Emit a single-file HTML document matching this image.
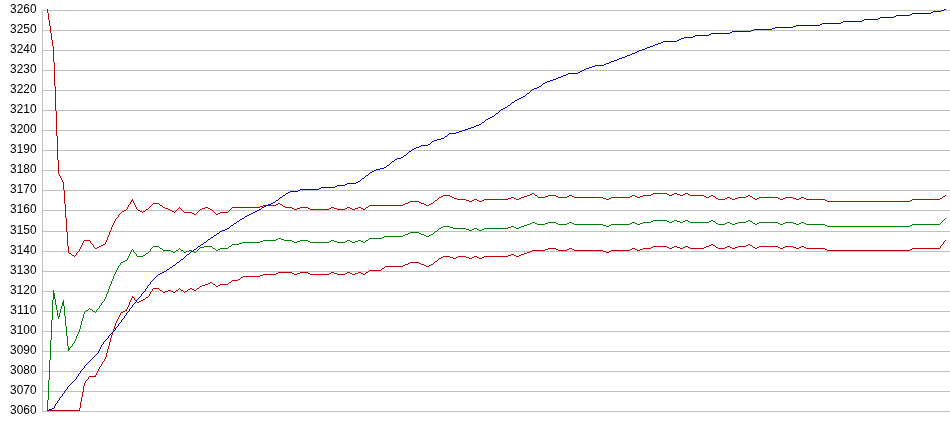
<!DOCTYPE html>
<html><head><meta charset="utf-8"><title>chart</title>
<style>
html,body{margin:0;padding:0;background:#fff;overflow:hidden}
svg{display:block}
text{font-family:"Liberation Sans",sans-serif;font-size:12.3px;fill:#000;text-anchor:end}
path{shape-rendering:crispEdges;stroke:none}
</style></head><body>
<svg width="950" height="435" viewBox="0 0 950 435">
<rect width="950" height="435" fill="#fff"/>
<path fill="#c0c0c0" d="M42 10h908v1h-908zM42 30h908v1h-908zM42 50h908v1h-908zM42 70h908v1h-908zM42 90h908v1h-908zM42 110h908v1h-908zM42 130h908v1h-908zM42 150h908v1h-908zM42 170h908v1h-908zM42 190h908v1h-908zM42 210h908v1h-908zM42 231h908v1h-908zM42 251h908v1h-908zM42 271h908v1h-908zM42 291h908v1h-908zM42 311h908v1h-908zM42 331h908v1h-908zM42 351h908v1h-908zM42 371h908v1h-908zM42 391h908v1h-908zM42 411h908v1h-908zM42 10h1v402h-1z"/>
<g><text x="36.5" y="13.2" textLength="26.4" lengthAdjust="spacingAndGlyphs">3260</text><text x="36.5" y="33.2" textLength="26.4" lengthAdjust="spacingAndGlyphs">3250</text><text x="36.5" y="53.2" textLength="26.4" lengthAdjust="spacingAndGlyphs">3240</text><text x="36.5" y="73.2" textLength="26.4" lengthAdjust="spacingAndGlyphs">3230</text><text x="36.5" y="93.2" textLength="26.4" lengthAdjust="spacingAndGlyphs">3220</text><text x="36.5" y="113.2" textLength="26.4" lengthAdjust="spacingAndGlyphs">3210</text><text x="36.5" y="133.2" textLength="26.4" lengthAdjust="spacingAndGlyphs">3200</text><text x="36.5" y="153.2" textLength="26.4" lengthAdjust="spacingAndGlyphs">3190</text><text x="36.5" y="173.2" textLength="26.4" lengthAdjust="spacingAndGlyphs">3180</text><text x="36.5" y="193.2" textLength="26.4" lengthAdjust="spacingAndGlyphs">3170</text><text x="36.5" y="213.2" textLength="26.4" lengthAdjust="spacingAndGlyphs">3160</text><text x="36.5" y="234.2" textLength="26.4" lengthAdjust="spacingAndGlyphs">3150</text><text x="36.5" y="254.2" textLength="26.4" lengthAdjust="spacingAndGlyphs">3140</text><text x="36.5" y="274.2" textLength="26.4" lengthAdjust="spacingAndGlyphs">3130</text><text x="36.5" y="294.2" textLength="26.4" lengthAdjust="spacingAndGlyphs">3120</text><text x="36.5" y="314.2" textLength="26.4" lengthAdjust="spacingAndGlyphs">3110</text><text x="36.5" y="334.2" textLength="26.4" lengthAdjust="spacingAndGlyphs">3100</text><text x="36.5" y="354.2" textLength="26.4" lengthAdjust="spacingAndGlyphs">3090</text><text x="36.5" y="374.2" textLength="26.4" lengthAdjust="spacingAndGlyphs">3080</text><text x="36.5" y="394.2" textLength="26.4" lengthAdjust="spacingAndGlyphs">3070</text><text x="36.5" y="414.2" textLength="26.4" lengthAdjust="spacingAndGlyphs">3060</text></g>
<path fill="#c00000" d="M69 253h2v1h-2zM72 255h2v1h-2zM84 240h6v1h-6zM95 248h2v1h-2zM97 247h2v1h-2zM99 246h2v1h-2zM101 245h2v1h-2zM103 244h2v1h-2zM122 211h2v1h-2zM124 210h2v1h-2zM131 200h2v1h-2zM138 210h2v1h-2zM140 211h2v1h-2zM143 211h2v1h-2zM146 209h2v1h-2zM153 203h6v1h-6zM160 205h2v1h-2zM163 207h2v1h-2zM165 208h3v1h-3zM168 209h2v1h-2zM170 210h2v1h-2zM172 211h2v1h-2zM184 212h8v1h-8zM192 213h2v1h-2zM194 214h2v1h-2zM200 209h2v1h-2zM202 208h3v1h-3zM205 207h3v1h-3zM208 208h2v1h-2zM210 209h2v1h-2zM216 214h2v1h-2zM218 213h2v1h-2zM220 212h8v1h-8zM232 207h28v1h-28zM260 206h3v1h-3zM263 205h13v1h-13zM276 204h2v1h-2zM278 203h2v1h-2zM280 204h2v1h-2zM283 206h2v1h-2zM285 207h7v1h-7zM292 208h2v1h-2zM294 209h3v1h-3zM297 208h3v1h-3zM300 207h8v1h-8zM308 208h2v1h-2zM310 209h19v1h-19zM329 208h2v1h-2zM331 207h3v1h-3zM334 208h3v1h-3zM337 209h8v1h-8zM345 208h2v1h-2zM347 207h3v1h-3zM350 208h2v1h-2zM352 209h3v1h-3zM355 208h3v1h-3zM358 207h3v1h-3zM361 208h2v1h-2zM363 209h2v1h-2zM366 207h2v1h-2zM369 205h34v1h-34zM403 204h2v1h-2zM405 203h3v1h-3zM408 202h2v1h-2zM410 201h9v1h-9zM419 202h2v1h-2zM421 203h3v1h-3zM424 204h2v1h-2zM426 205h3v1h-3zM429 204h2v1h-2zM431 203h2v1h-2zM435 200h2v1h-2zM439 197h2v1h-2zM441 196h2v1h-2zM443 195h7v1h-7zM450 196h2v1h-2zM452 197h2v1h-2zM454 198h3v1h-3zM457 199h9v1h-9zM466 200h3v1h-3zM469 201h3v1h-3zM472 200h2v1h-2zM474 199h3v1h-3zM477 200h2v1h-2zM479 201h3v1h-3zM482 200h2v1h-2zM484 199h24v1h-24zM508 198h3v1h-3zM511 197h3v1h-3zM514 198h2v1h-2zM516 199h3v1h-3zM519 198h2v1h-2zM521 197h3v1h-3zM524 196h3v1h-3zM527 195h3v1h-3zM530 194h2v1h-2zM532 193h2v1h-2zM535 195h2v1h-2zM538 197h7v1h-7zM545 196h3v1h-3zM548 195h8v1h-8zM556 196h2v1h-2zM558 197h9v1h-9zM567 196h2v1h-2zM569 195h3v1h-3zM572 196h2v1h-2zM574 197h29v1h-29zM603 198h3v1h-3zM606 199h3v1h-3zM609 198h2v1h-2zM611 197h19v1h-19zM630 196h2v1h-2zM632 195h3v1h-3zM635 196h2v1h-2zM637 197h3v1h-3zM640 196h3v1h-3zM643 195h8v1h-8zM651 194h2v1h-2zM653 193h14v1h-14zM667 194h2v1h-2zM669 195h3v1h-3zM672 194h2v1h-2zM674 193h3v1h-3zM677 194h3v1h-3zM680 195h3v1h-3zM683 194h2v1h-2zM685 193h3v1h-3zM688 194h2v1h-2zM690 195h14v1h-14zM704 196h2v1h-2zM706 197h3v1h-3zM709 196h2v1h-2zM711 195h2v1h-2zM713 196h2v1h-2zM716 198h2v1h-2zM718 199h7v1h-7zM725 198h2v1h-2zM727 197h3v1h-3zM730 198h2v1h-2zM732 199h3v1h-3zM735 198h3v1h-3zM738 197h8v1h-8zM746 196h2v1h-2zM748 195h2v1h-2zM750 196h2v1h-2zM753 198h2v1h-2zM755 199h2v1h-2zM757 198h2v1h-2zM759 197h19v1h-19zM778 198h2v1h-2zM780 199h3v1h-3zM783 198h2v1h-2zM785 197h8v1h-8zM793 198h3v1h-3zM796 199h3v1h-3zM799 198h2v1h-2zM801 197h3v1h-3zM804 198h2v1h-2zM806 199h19v1h-19zM825 200h2v1h-2zM827 201h83v1h-83zM910 200h2v1h-2zM912 199h28v1h-28zM940 198h2v1h-2zM943 196h2v1h-2zM47 9v4h1v-4zM48 13v7h1v-7zM49 20v6h1v-6zM50 26v7h1v-7zM51 33v7h1v-7zM52 40v6h1v-6zM53 46v16h1v-16zM54 62v24h1v-24zM55 86v25h1v-25zM56 111v25h1v-25zM57 136v24h1v-24zM58 160v14h1v-14zM59 174v2h1v-2zM60 176v2h1v-2zM61 178v2h1v-2zM62 180v2h1v-2zM63 182v8h1v-8zM64 190v14h1v-14zM65 204v14h1v-14zM66 218v14h1v-14zM67 232v14h1v-14zM68 246v7h1v-7zM71 254v1h1v-1zM74 256v1h1v-1zM75 255v1h1v-1zM76 253v2h1v-2zM77 252v1h1v-1zM78 251v1h1v-1zM79 249v2h1v-2zM80 247v2h1v-2zM81 245v2h1v-2zM82 243v2h1v-2zM83 241v2h1v-2zM90 241v2h1v-2zM91 243v1h1v-1zM92 244v1h1v-1zM93 245v2h1v-2zM94 247v1h1v-1zM105 242v2h1v-2zM106 240v2h1v-2zM107 237v3h1v-3zM108 235v2h1v-2zM109 232v3h1v-3zM110 230v2h1v-2zM111 227v3h1v-3zM112 225v2h1v-2zM113 223v2h1v-2zM114 221v2h1v-2zM115 219v2h1v-2zM116 218v1h1v-1zM117 217v1h1v-1zM118 215v2h1v-2zM119 214v1h1v-1zM120 213v1h1v-1zM121 212v1h1v-1zM126 209v1h1v-1zM127 207v2h1v-2zM128 205v2h1v-2zM129 204v1h1v-1zM130 202v2h1v-2zM131 201v1h1v-1zM132 199v1h1v-1zM133 201v2h1v-2zM134 203v2h1v-2zM135 205v2h1v-2zM136 207v2h1v-2zM137 209v1h1v-1zM142 212v1h1v-1zM145 210v1h1v-1zM148 208v1h1v-1zM149 207v1h1v-1zM150 206v1h1v-1zM151 205v1h1v-1zM152 204v1h1v-1zM159 204v1h1v-1zM162 206v1h1v-1zM174 212v1h1v-1zM175 211v1h1v-1zM176 210v1h1v-1zM177 209v1h1v-1zM178 208v1h1v-1zM179 207v1h1v-1zM180 208v1h1v-1zM181 209v1h1v-1zM182 210v1h1v-1zM183 211v1h1v-1zM196 213v1h1v-1zM197 212v1h1v-1zM198 211v1h1v-1zM199 210v1h1v-1zM212 210v1h1v-1zM213 211v1h1v-1zM214 212v1h1v-1zM215 213v1h1v-1zM228 211v1h1v-1zM229 210v1h1v-1zM230 209v1h1v-1zM231 208v1h1v-1zM282 205v1h1v-1zM365 208v1h1v-1zM368 206v1h1v-1zM433 202v1h1v-1zM434 201v1h1v-1zM437 199v1h1v-1zM438 198v1h1v-1zM534 194v1h1v-1zM537 196v1h1v-1zM715 197v1h1v-1zM752 197v1h1v-1zM942 197v1h1v-1zM945 195v1h1v-1z"/>
<path fill="#c00000" d="M47 410h33v1h-33zM89 376h7v1h-7zM121 312h2v1h-2zM123 311h2v1h-2zM125 310h2v1h-2zM132 297h2v1h-2zM137 302h2v1h-2zM139 301h2v1h-2zM141 300h2v1h-2zM143 299h2v1h-2zM146 297h2v1h-2zM153 288h6v1h-6zM160 290h2v1h-2zM163 292h2v1h-2zM165 291h3v1h-3zM168 290h3v1h-3zM171 291h2v1h-2zM173 292h2v1h-2zM176 290h2v1h-2zM181 290h2v1h-2zM185 291h2v1h-2zM188 289h2v1h-2zM190 288h2v1h-2zM192 289h2v1h-2zM194 290h2v1h-2zM197 288h2v1h-2zM200 286h2v1h-2zM202 285h3v1h-3zM205 284h3v1h-3zM208 283h2v1h-2zM210 282h2v1h-2zM213 284h2v1h-2zM216 286h2v1h-2zM218 285h2v1h-2zM220 284h8v1h-8zM229 282h2v1h-2zM232 280h6v1h-6zM238 279h2v1h-2zM241 277h2v1h-2zM243 276h17v1h-17zM260 275h3v1h-3zM263 274h13v1h-13zM276 273h2v1h-2zM278 272h14v1h-14zM292 273h2v1h-2zM294 274h3v1h-3zM297 273h3v1h-3zM300 272h8v1h-8zM308 273h2v1h-2zM310 274h19v1h-19zM329 273h2v1h-2zM331 272h3v1h-3zM334 273h3v1h-3zM337 274h8v1h-8zM345 273h2v1h-2zM347 272h3v1h-3zM350 273h2v1h-2zM352 274h3v1h-3zM355 273h3v1h-3zM358 272h3v1h-3zM361 273h2v1h-2zM363 274h2v1h-2zM366 272h2v1h-2zM369 270h12v1h-12zM382 268h2v1h-2zM385 266h18v1h-18zM403 265h2v1h-2zM405 264h3v1h-3zM408 263h2v1h-2zM410 262h9v1h-9zM419 263h2v1h-2zM421 264h3v1h-3zM424 265h2v1h-2zM426 266h3v1h-3zM429 265h2v1h-2zM431 264h2v1h-2zM435 261h2v1h-2zM439 258h2v1h-2zM441 257h2v1h-2zM443 256h7v1h-7zM450 257h3v1h-3zM453 258h3v1h-3zM456 257h2v1h-2zM458 256h8v1h-8zM466 257h3v1h-3zM469 258h3v1h-3zM472 257h2v1h-2zM474 256h3v1h-3zM477 257h2v1h-2zM479 258h3v1h-3zM482 257h2v1h-2zM484 256h24v1h-24zM508 255h3v1h-3zM511 254h3v1h-3zM514 255h2v1h-2zM516 256h3v1h-3zM519 255h2v1h-2zM521 254h3v1h-3zM524 253h3v1h-3zM527 252h3v1h-3zM530 251h2v1h-2zM532 250h13v1h-13zM545 249h3v1h-3zM548 248h8v1h-8zM556 249h2v1h-2zM558 250h9v1h-9zM567 249h2v1h-2zM569 248h3v1h-3zM572 249h2v1h-2zM574 250h29v1h-29zM603 251h3v1h-3zM606 252h3v1h-3zM609 251h2v1h-2zM611 250h19v1h-19zM630 249h2v1h-2zM632 248h3v1h-3zM635 249h2v1h-2zM637 250h3v1h-3zM640 249h3v1h-3zM643 248h8v1h-8zM651 247h2v1h-2zM653 246h14v1h-14zM667 247h2v1h-2zM669 248h3v1h-3zM672 247h2v1h-2zM674 246h3v1h-3zM677 247h3v1h-3zM680 248h3v1h-3zM683 247h2v1h-2zM685 246h3v1h-3zM688 247h2v1h-2zM690 248h14v1h-14zM704 247h2v1h-2zM706 246h3v1h-3zM709 245h2v1h-2zM711 244h2v1h-2zM713 245h2v1h-2zM716 247h2v1h-2zM718 248h7v1h-7zM725 247h2v1h-2zM727 246h3v1h-3zM730 247h2v1h-2zM732 248h3v1h-3zM735 247h3v1h-3zM738 246h8v1h-8zM746 245h2v1h-2zM748 244h2v1h-2zM750 245h2v1h-2zM753 247h2v1h-2zM755 248h2v1h-2zM757 247h2v1h-2zM759 246h19v1h-19zM778 247h2v1h-2zM780 248h3v1h-3zM783 247h2v1h-2zM785 246h8v1h-8zM793 247h3v1h-3zM796 248h3v1h-3zM799 247h2v1h-2zM801 246h3v1h-3zM804 247h2v1h-2zM806 248h19v1h-19zM825 249h2v1h-2zM827 250h83v1h-83zM910 249h2v1h-2zM912 248h28v1h-28zM79 408v2h1v-2zM80 402v6h1v-6zM81 397v5h1v-5zM82 392v5h1v-5zM83 386v6h1v-6zM84 383v3h1v-3zM85 381v2h1v-2zM86 380v1h1v-1zM87 379v1h1v-1zM88 377v2h1v-2zM95 375v1h1v-1zM96 373v2h1v-2zM97 371v2h1v-2zM98 369v2h1v-2zM99 367v2h1v-2zM100 366v1h1v-1zM101 364v2h1v-2zM102 362v2h1v-2zM103 361v1h1v-1zM104 359v2h1v-2zM105 357v2h1v-2zM106 353v4h1v-4zM107 349v4h1v-4zM108 346v3h1v-3zM109 342v4h1v-4zM110 338v4h1v-4zM111 335v3h1v-3zM112 332v3h1v-3zM113 329v3h1v-3zM114 326v3h1v-3zM115 323v3h1v-3zM116 321v2h1v-2zM117 319v2h1v-2zM118 317v2h1v-2zM119 315v2h1v-2zM120 313v2h1v-2zM126 309v1h1v-1zM127 307v2h1v-2zM128 305v2h1v-2zM129 302v3h1v-3zM130 300v2h1v-2zM131 298v2h1v-2zM132 296v1h1v-1zM134 298v2h1v-2zM135 300v1h1v-1zM136 301v1h1v-1zM145 298v1h1v-1zM148 296v1h1v-1zM149 294v2h1v-2zM150 292v2h1v-2zM151 291v1h1v-1zM152 289v2h1v-2zM159 289v1h1v-1zM162 291v1h1v-1zM175 291v1h1v-1zM178 289v1h1v-1zM179 288v1h1v-1zM180 289v1h1v-1zM183 291v1h1v-1zM184 292v1h1v-1zM187 290v1h1v-1zM196 289v1h1v-1zM199 287v1h1v-1zM212 283v1h1v-1zM215 285v1h1v-1zM228 283v1h1v-1zM231 281v1h1v-1zM240 278v1h1v-1zM365 273v1h1v-1zM368 271v1h1v-1zM381 269v1h1v-1zM384 267v1h1v-1zM433 263v1h1v-1zM434 262v1h1v-1zM437 260v1h1v-1zM438 259v1h1v-1zM715 246v1h1v-1zM752 246v1h1v-1zM940 246v2h1v-2zM941 245v1h1v-1zM942 244v1h1v-1zM943 242v2h1v-2zM944 241v1h1v-1zM945 240v1h1v-1z"/>
<path fill="#008000" d="M53 293h2v1h-2zM53 294h2v1h-2zM53 295h2v1h-2zM53 296h2v1h-2zM53 297h2v1h-2zM53 298h2v1h-2zM58 316h2v1h-2zM62 302h2v1h-2zM62 303h2v1h-2zM62 304h2v1h-2zM62 305h2v1h-2zM68 348h2v1h-2zM68 349h2v1h-2zM86 310h2v1h-2zM90 309h2v1h-2zM93 311h2v1h-2zM121 262h2v1h-2zM123 261h2v1h-2zM125 260h2v1h-2zM137 256h6v1h-6zM143 255h2v1h-2zM146 253h2v1h-2zM153 246h6v1h-6zM160 248h2v1h-2zM163 250h8v1h-8zM171 251h2v1h-2zM173 252h2v1h-2zM176 250h2v1h-2zM181 250h2v1h-2zM184 252h2v1h-2zM186 251h3v1h-3zM189 250h3v1h-3zM192 251h2v1h-2zM194 252h2v1h-2zM200 247h4v1h-4zM204 246h8v1h-8zM213 248h2v1h-2zM216 250h2v1h-2zM218 249h2v1h-2zM220 248h8v1h-8zM229 246h2v1h-2zM232 244h7v1h-7zM239 243h3v1h-3zM242 242h18v1h-18zM260 241h3v1h-3zM263 240h13v1h-13zM276 239h2v1h-2zM278 238h3v1h-3zM281 239h3v1h-3zM284 240h8v1h-8zM292 241h2v1h-2zM294 242h3v1h-3zM297 241h3v1h-3zM300 240h8v1h-8zM308 241h2v1h-2zM310 242h19v1h-19zM329 241h2v1h-2zM331 240h3v1h-3zM334 241h3v1h-3zM337 242h8v1h-8zM345 241h2v1h-2zM347 240h3v1h-3zM350 241h2v1h-2zM352 242h3v1h-3zM355 241h3v1h-3zM358 240h3v1h-3zM361 241h2v1h-2zM363 242h2v1h-2zM366 240h2v1h-2zM369 238h13v1h-13zM382 237h2v1h-2zM384 236h19v1h-19zM403 235h2v1h-2zM405 234h3v1h-3zM408 233h2v1h-2zM410 232h9v1h-9zM419 233h2v1h-2zM421 234h3v1h-3zM424 235h2v1h-2zM426 236h3v1h-3zM429 235h2v1h-2zM431 234h2v1h-2zM435 231h2v1h-2zM439 228h2v1h-2zM441 227h2v1h-2zM443 226h7v1h-7zM450 227h3v1h-3zM453 228h13v1h-13zM466 229h3v1h-3zM469 230h3v1h-3zM472 229h2v1h-2zM474 228h3v1h-3zM477 229h2v1h-2zM479 230h3v1h-3zM482 229h2v1h-2zM484 228h24v1h-24zM508 227h3v1h-3zM511 226h3v1h-3zM514 227h2v1h-2zM516 228h3v1h-3zM519 227h2v1h-2zM521 226h3v1h-3zM524 225h3v1h-3zM527 224h3v1h-3zM530 223h2v1h-2zM532 222h3v1h-3zM535 223h2v1h-2zM537 224h8v1h-8zM545 223h3v1h-3zM548 222h8v1h-8zM556 223h2v1h-2zM558 224h9v1h-9zM567 223h2v1h-2zM569 222h3v1h-3zM572 223h2v1h-2zM574 224h29v1h-29zM603 225h3v1h-3zM606 226h3v1h-3zM609 225h2v1h-2zM611 224h19v1h-19zM630 223h2v1h-2zM632 222h3v1h-3zM635 223h2v1h-2zM637 224h3v1h-3zM640 223h3v1h-3zM643 222h8v1h-8zM651 221h2v1h-2zM653 220h14v1h-14zM667 221h2v1h-2zM669 222h3v1h-3zM672 221h2v1h-2zM674 220h3v1h-3zM677 221h3v1h-3zM680 222h3v1h-3zM683 221h2v1h-2zM685 220h3v1h-3zM688 221h2v1h-2zM690 222h19v1h-19zM709 221h2v1h-2zM711 220h2v1h-2zM713 221h2v1h-2zM716 223h2v1h-2zM718 224h7v1h-7zM725 223h2v1h-2zM727 222h3v1h-3zM730 223h2v1h-2zM732 224h3v1h-3zM735 223h3v1h-3zM738 222h8v1h-8zM746 221h2v1h-2zM748 220h2v1h-2zM750 221h2v1h-2zM753 223h2v1h-2zM755 224h2v1h-2zM757 223h2v1h-2zM759 222h19v1h-19zM778 223h2v1h-2zM780 224h3v1h-3zM783 223h2v1h-2zM785 222h8v1h-8zM793 223h3v1h-3zM796 224h3v1h-3zM799 223h2v1h-2zM801 222h3v1h-3zM804 223h2v1h-2zM806 224h19v1h-19zM825 225h2v1h-2zM827 226h83v1h-83zM910 225h2v1h-2zM912 224h28v1h-28zM47 400v11h1v-11zM48 380v20h1v-20zM49 360v20h1v-20zM50 340v20h1v-20zM51 320v20h1v-20zM52 300v20h1v-20zM53 290v3h1v-3zM53 299v1h1v-1zM55 299v6h1v-6zM56 305v5h1v-5zM57 310v6h1v-6zM58 317v2h1v-2zM59 313v3h1v-3zM60 309v4h1v-4zM61 306v3h1v-3zM63 300v2h1v-2zM64 306v10h1v-10zM65 316v10h1v-10zM66 326v10h1v-10zM67 336v10h1v-10zM68 346v2h1v-2zM68 350v1h1v-1zM70 347v1h1v-1zM71 346v1h1v-1zM72 344v2h1v-2zM73 343v1h1v-1zM74 341v2h1v-2zM75 339v2h1v-2zM76 336v3h1v-3zM77 334v2h1v-2zM78 332v2h1v-2zM79 329v3h1v-3zM80 325v4h1v-4zM81 321v4h1v-4zM82 318v3h1v-3zM83 314v4h1v-4zM84 312v2h1v-2zM85 311v1h1v-1zM88 309v1h1v-1zM89 308v1h1v-1zM92 310v1h1v-1zM95 312v1h1v-1zM96 310v2h1v-2zM97 309v1h1v-1zM98 308v1h1v-1zM99 306v2h1v-2zM100 305v1h1v-1zM101 303v2h1v-2zM102 302v1h1v-1zM103 301v1h1v-1zM104 299v2h1v-2zM105 297v2h1v-2zM106 294v3h1v-3zM107 292v2h1v-2zM108 289v3h1v-3zM109 286v3h1v-3zM110 284v2h1v-2zM111 281v3h1v-3zM112 279v2h1v-2zM113 276v3h1v-3zM114 274v2h1v-2zM115 272v2h1v-2zM116 270v2h1v-2zM117 268v2h1v-2zM118 266v2h1v-2zM119 265v1h1v-1zM120 263v2h1v-2zM127 258v2h1v-2zM128 256v2h1v-2zM129 254v2h1v-2zM130 252v2h1v-2zM131 250v2h1v-2zM132 249v1h1v-1zM133 250v2h1v-2zM134 252v1h1v-1zM135 253v1h1v-1zM136 254v2h1v-2zM145 254v1h1v-1zM148 252v1h1v-1zM149 251v1h1v-1zM150 249v2h1v-2zM151 248v1h1v-1zM152 247v1h1v-1zM159 247v1h1v-1zM162 249v1h1v-1zM175 251v1h1v-1zM178 249v1h1v-1zM179 248v1h1v-1zM180 249v1h1v-1zM183 251v1h1v-1zM196 251v1h1v-1zM197 250v1h1v-1zM198 249v1h1v-1zM199 248v1h1v-1zM212 247v1h1v-1zM215 249v1h1v-1zM228 247v1h1v-1zM231 245v1h1v-1zM365 241v1h1v-1zM368 239v1h1v-1zM433 233v1h1v-1zM434 232v1h1v-1zM437 230v1h1v-1zM438 229v1h1v-1zM715 222v1h1v-1zM752 222v1h1v-1zM940 223v1h1v-1zM941 222v1h1v-1zM942 221v1h1v-1zM943 220v1h1v-1zM944 219v1h1v-1zM945 218v1h1v-1z"/>
<path fill="#0000c0" d="M47 410h2v1h-2zM49 409h3v1h-3zM52 408h2v1h-2zM158 274h2v1h-2zM160 273h2v1h-2zM162 272h2v1h-2zM164 271h2v1h-2zM167 269h2v1h-2zM170 267h2v1h-2zM173 265h2v1h-2zM177 262h2v1h-2zM181 259h2v1h-2zM187 254h2v1h-2zM191 251h2v1h-2zM194 249h2v1h-2zM198 246h2v1h-2zM201 244h2v1h-2zM204 242h2v1h-2zM208 239h2v1h-2zM211 237h2v1h-2zM214 235h2v1h-2zM217 233h2v1h-2zM220 231h2v1h-2zM222 230h3v1h-3zM225 229h2v1h-2zM227 228h2v1h-2zM231 225h2v1h-2zM234 223h2v1h-2zM237 221h2v1h-2zM240 219h2v1h-2zM242 218h2v1h-2zM245 216h2v1h-2zM247 215h2v1h-2zM249 214h2v1h-2zM251 213h2v1h-2zM253 212h2v1h-2zM255 211h2v1h-2zM257 210h2v1h-2zM259 209h2v1h-2zM262 207h2v1h-2zM264 206h2v1h-2zM266 205h2v1h-2zM268 204h3v1h-3zM271 203h2v1h-2zM273 202h2v1h-2zM276 200h2v1h-2zM280 197h2v1h-2zM283 195h2v1h-2zM286 193h2v1h-2zM288 192h2v1h-2zM290 191h8v1h-8zM298 190h2v1h-2zM300 189h19v1h-19zM319 188h2v1h-2zM321 187h14v1h-14zM335 186h2v1h-2zM337 185h8v1h-8zM345 184h2v1h-2zM347 183h9v1h-9zM356 182h2v1h-2zM358 181h2v1h-2zM362 178h2v1h-2zM366 175h2v1h-2zM370 172h2v1h-2zM372 171h2v1h-2zM374 170h2v1h-2zM376 169h4v1h-4zM380 168h4v1h-4zM384 167h2v1h-2zM387 165h2v1h-2zM392 161h2v1h-2zM395 159h2v1h-2zM397 158h4v1h-4zM401 157h2v1h-2zM404 155h2v1h-2zM409 151h2v1h-2zM412 149h2v1h-2zM414 148h2v1h-2zM416 147h3v1h-3zM419 146h2v1h-2zM421 145h7v1h-7zM428 144h2v1h-2zM432 141h2v1h-2zM434 140h3v1h-3zM437 139h4v1h-4zM441 138h3v1h-3zM445 136h2v1h-2zM449 133h7v1h-7zM456 132h3v1h-3zM459 131h3v1h-3zM462 130h3v1h-3zM465 129h3v1h-3zM468 128h3v1h-3zM471 127h3v1h-3zM474 126h2v1h-2zM476 125h3v1h-3zM479 124h2v1h-2zM482 122h2v1h-2zM486 119h2v1h-2zM488 118h2v1h-2zM490 117h2v1h-2zM492 116h2v1h-2zM496 113h2v1h-2zM501 109h2v1h-2zM503 108h2v1h-2zM505 107h2v1h-2zM508 105h2v1h-2zM512 102h2v1h-2zM515 100h2v1h-2zM517 99h2v1h-2zM519 98h2v1h-2zM521 97h2v1h-2zM523 96h2v1h-2zM527 93h2v1h-2zM532 89h2v1h-2zM534 88h3v1h-3zM537 87h2v1h-2zM539 86h2v1h-2zM543 83h2v1h-2zM545 82h2v1h-2zM547 81h3v1h-3zM550 80h3v1h-3zM553 79h3v1h-3zM556 78h2v1h-2zM558 77h3v1h-3zM561 76h2v1h-2zM563 75h3v1h-3zM566 74h2v1h-2zM568 73h10v1h-10zM578 72h2v1h-2zM580 71h2v1h-2zM582 70h2v1h-2zM584 69h2v1h-2zM586 68h3v1h-3zM589 67h3v1h-3zM592 66h3v1h-3zM595 65h9v1h-9zM604 64h2v1h-2zM606 63h3v1h-3zM609 62h2v1h-2zM611 61h3v1h-3zM614 60h3v1h-3zM617 59h2v1h-2zM619 58h3v1h-3zM622 57h3v1h-3zM625 56h2v1h-2zM627 55h3v1h-3zM630 54h2v1h-2zM632 53h3v1h-3zM635 52h2v1h-2zM637 51h2v1h-2zM639 50h3v1h-3zM642 49h3v1h-3zM645 48h2v1h-2zM647 47h3v1h-3zM650 46h3v1h-3zM653 45h2v1h-2zM655 44h3v1h-3zM658 43h3v1h-3zM661 42h2v1h-2zM663 41h14v1h-14zM677 40h2v1h-2zM679 39h2v1h-2zM681 38h3v1h-3zM684 37h9v1h-9zM693 36h2v1h-2zM695 35h14v1h-14zM709 34h2v1h-2zM711 33h19v1h-19zM730 32h2v1h-2zM732 31h19v1h-19zM751 30h3v1h-3zM754 29h18v1h-18zM772 28h3v1h-3zM775 27h18v1h-18zM793 26h3v1h-3zM796 25h24v1h-24zM820 24h2v1h-2zM822 23h19v1h-19zM841 22h2v1h-2zM843 21h19v1h-19zM862 20h2v1h-2zM864 19h14v1h-14zM878 18h2v1h-2zM880 17h14v1h-14zM894 16h2v1h-2zM896 15h14v1h-14zM910 14h2v1h-2zM912 13h19v1h-19zM931 12h2v1h-2zM933 11h8v1h-8zM941 10h3v1h-3zM944 9h2v1h-2zM54 406v2h1v-2zM55 404v2h1v-2zM56 403v1h1v-1zM57 401v2h1v-2zM58 400v1h1v-1zM59 398v2h1v-2zM60 397v1h1v-1zM61 396v1h1v-1zM62 394v2h1v-2zM63 393v1h1v-1zM64 391v2h1v-2zM65 390v1h1v-1zM66 389v1h1v-1zM67 387v2h1v-2zM68 386v1h1v-1zM69 385v1h1v-1zM70 384v1h1v-1zM71 383v1h1v-1zM72 382v1h1v-1zM73 381v1h1v-1zM74 380v1h1v-1zM75 379v1h1v-1zM76 377v2h1v-2zM77 376v1h1v-1zM78 374v2h1v-2zM79 373v1h1v-1zM80 371v2h1v-2zM81 370v1h1v-1zM82 369v1h1v-1zM83 368v1h1v-1zM84 366v2h1v-2zM85 365v1h1v-1zM86 364v1h1v-1zM87 363v1h1v-1zM88 362v1h1v-1zM89 361v1h1v-1zM90 360v1h1v-1zM91 359v1h1v-1zM92 358v1h1v-1zM93 357v1h1v-1zM94 356v1h1v-1zM95 355v1h1v-1zM96 354v1h1v-1zM97 353v1h1v-1zM98 351v2h1v-2zM99 349v2h1v-2zM100 347v2h1v-2zM101 345v2h1v-2zM102 344v1h1v-1zM103 342v2h1v-2zM104 341v1h1v-1zM105 340v1h1v-1zM106 339v1h1v-1zM107 338v1h1v-1zM108 336v2h1v-2zM109 335v1h1v-1zM110 334v1h1v-1zM111 333v1h1v-1zM112 332v1h1v-1zM113 331v1h1v-1zM114 330v1h1v-1zM115 328v2h1v-2zM116 327v1h1v-1zM117 326v1h1v-1zM118 324v2h1v-2zM119 323v1h1v-1zM120 322v1h1v-1zM121 320v2h1v-2zM122 319v1h1v-1zM123 318v1h1v-1zM124 316v2h1v-2zM125 315v1h1v-1zM126 313v2h1v-2zM127 312v1h1v-1zM128 311v1h1v-1zM129 309v2h1v-2zM130 308v1h1v-1zM131 307v1h1v-1zM132 305v2h1v-2zM133 304v1h1v-1zM134 303v1h1v-1zM135 302v1h1v-1zM136 300v2h1v-2zM137 299v1h1v-1zM138 298v1h1v-1zM139 297v1h1v-1zM140 296v1h1v-1zM141 294v2h1v-2zM142 293v1h1v-1zM143 292v1h1v-1zM144 291v1h1v-1zM145 289v2h1v-2zM146 288v1h1v-1zM147 286v2h1v-2zM148 285v1h1v-1zM149 284v1h1v-1zM150 282v2h1v-2zM151 281v1h1v-1zM152 280v1h1v-1zM153 279v1h1v-1zM154 278v1h1v-1zM155 277v1h1v-1zM156 276v1h1v-1zM157 275v1h1v-1zM166 270v1h1v-1zM169 268v1h1v-1zM172 266v1h1v-1zM175 264v1h1v-1zM176 263v1h1v-1zM179 261v1h1v-1zM180 260v1h1v-1zM183 258v1h1v-1zM184 257v1h1v-1zM185 256v1h1v-1zM186 255v1h1v-1zM189 253v1h1v-1zM190 252v1h1v-1zM193 250v1h1v-1zM196 248v1h1v-1zM197 247v1h1v-1zM200 245v1h1v-1zM203 243v1h1v-1zM206 241v1h1v-1zM207 240v1h1v-1zM210 238v1h1v-1zM213 236v1h1v-1zM216 234v1h1v-1zM219 232v1h1v-1zM229 227v1h1v-1zM230 226v1h1v-1zM233 224v1h1v-1zM236 222v1h1v-1zM239 220v1h1v-1zM244 217v1h1v-1zM261 208v1h1v-1zM275 201v1h1v-1zM278 199v1h1v-1zM279 198v1h1v-1zM282 196v1h1v-1zM285 194v1h1v-1zM360 180v1h1v-1zM361 179v1h1v-1zM364 177v1h1v-1zM365 176v1h1v-1zM368 174v1h1v-1zM369 173v1h1v-1zM386 166v1h1v-1zM389 164v1h1v-1zM390 163v1h1v-1zM391 162v1h1v-1zM394 160v1h1v-1zM403 156v1h1v-1zM406 154v1h1v-1zM407 153v1h1v-1zM408 152v1h1v-1zM411 150v1h1v-1zM430 143v1h1v-1zM431 142v1h1v-1zM444 137v1h1v-1zM447 135v1h1v-1zM448 134v1h1v-1zM481 123v1h1v-1zM484 121v1h1v-1zM485 120v1h1v-1zM494 115v1h1v-1zM495 114v1h1v-1zM498 112v1h1v-1zM499 111v1h1v-1zM500 110v1h1v-1zM507 106v1h1v-1zM510 104v1h1v-1zM511 103v1h1v-1zM514 101v1h1v-1zM525 95v1h1v-1zM526 94v1h1v-1zM529 92v1h1v-1zM530 91v1h1v-1zM531 90v1h1v-1zM541 85v1h1v-1zM542 84v1h1v-1z"/>
</svg>
</body></html>
